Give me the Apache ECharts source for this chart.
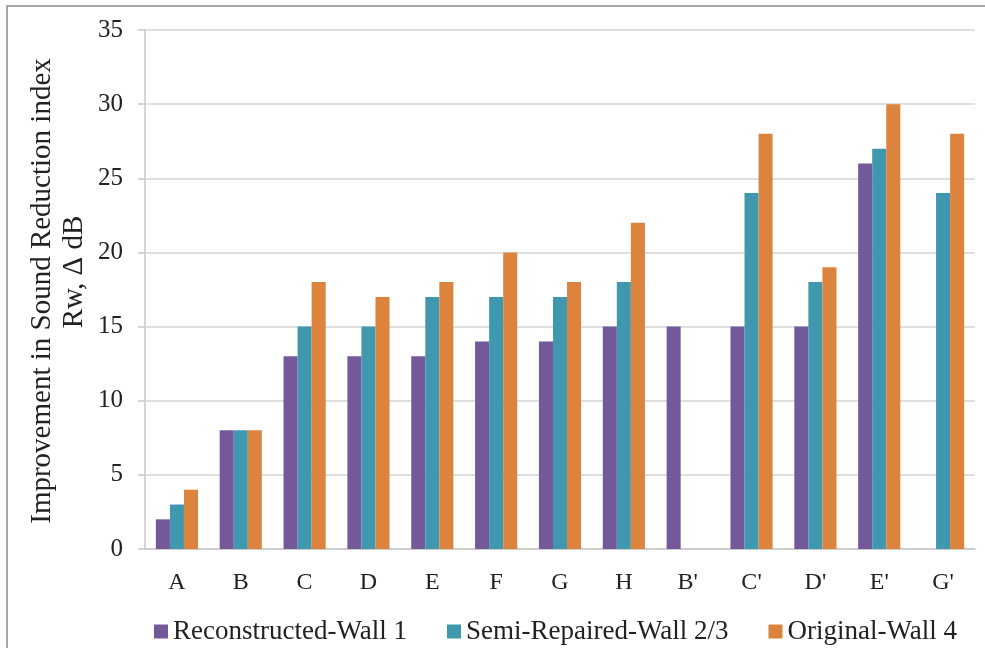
<!DOCTYPE html>
<html>
<head>
<meta charset="utf-8">
<script src="https://cdn.jsdelivr.net/npm/echarts@6/dist/echarts.min.js"></script>
<style>
  html, body { margin: 0; padding: 0; background: #fff; }
  #main { width: 985px; height: 648px; }
</style>
</head>
<body>
<div id="main"></div>
<script>
var categories = ['A', 'B', 'C', 'D', 'E', 'F', 'G', 'H', "B'", "C'", "D'", "E'", "G'"];
var reconstructed = [2, 8, 13, 13, 13, 14, 14, 15, 15, 15, 15, 26, null];
var semiRepaired = [3, 8, 15, 15, 17, 17, 17, 18, null, 24, 18, 27, 24];
var original = [4, 8, 18, 17, 18, 20, 18, 22, null, 28, 19, 30, 28];
var yTicks = [0, 5, 10, 15, 20, 25, 30, 35];
var yTitle = ['Improvement in Sound Reduction index', 'Rw, \u0394 dB'];

var myChart = echarts.init(document.getElementById('main'));

var font = 'Liberation Serif';

var option = {
    backgroundColor: '#fff',
    textStyle: { fontFamily: font },
    graphic: [
        {
            type: 'rect',
            shape: { x: 7, y: 6, width: 990, height: 660 },
            style: { fill: 'none', stroke: '#8c8c8c', lineWidth: 1.5 },
            z: 0
        },
        // y axis title, two lines placed like the original
        {
            type: 'text',
            x: 42,
            y: 291,
            rotation: Math.PI / 2,
            style: {
                text: yTitle[0],
                font: '29px "Liberation Serif"',
                fill: '#222',
                textAlign: 'center',
                textVerticalAlign: 'middle'
            }
        },
        {
            type: 'text',
            x: 74,
            y: 272,
            rotation: Math.PI / 2,
            style: {
                text: yTitle[1],
                font: '29px "Liberation Serif"',
                fill: '#222',
                textAlign: 'center',
                textVerticalAlign: 'middle'
            }
        }
    ],
    legend: {
        top: 613,
        left: 149,
        itemWidth: 14,
        itemHeight: 14,
        itemGap: 40,
        icon: 'rect',
        textStyle: { fontFamily: font, fontSize: 27, color: '#222' },
        data: ['Reconstructed-Wall 1', 'Semi-Repaired-Wall 2/3', 'Original-Wall 4']
    },
    grid: {
        left: 145,
        right: 10,
        top: 30,
        bottom: 99
    },
    xAxis: {
        type: 'category',
        data: categories,
        axisLine: { lineStyle: { color: '#c8c8c8', width: 1.5 } },
        axisTick: { show: false },
        axisLabel: { fontFamily: font, fontSize: 24, color: '#222', margin: 22 }
    },
    yAxis: {
        type: 'value',
        min: yTicks[0],
        max: yTicks[yTicks.length - 1],
        interval: 5,
        axisLine: { show: true, lineStyle: { color: '#c8c8c8', width: 1.5 } },
        axisTick: { show: true, length: 7, lineStyle: { color: '#c8c8c8', width: 1.5 } },
        axisLabel: { fontFamily: font, fontSize: 25, color: '#222', margin: 22 },
        splitLine: { lineStyle: { color: '#d4d4d4', width: 1.5 } }
    },
    series: [
        {
            name: 'Reconstructed-Wall 1',
            type: 'bar',
            data: reconstructed,
            barGap: '0%',
            barCategoryGap: '34%',
            itemStyle: { color: '#73589a' }
        },
        {
            name: 'Semi-Repaired-Wall 2/3',
            type: 'bar',
            data: semiRepaired,
            barGap: '0%',
            barCategoryGap: '34%',
            itemStyle: { color: '#3f98ae' }
        },
        {
            name: 'Original-Wall 4',
            type: 'bar',
            data: original,
            barGap: '0%',
            barCategoryGap: '34%',
            itemStyle: { color: '#dc843d' }
        }
    ]
};

myChart.setOption(option);
</script>
</body>
</html>
